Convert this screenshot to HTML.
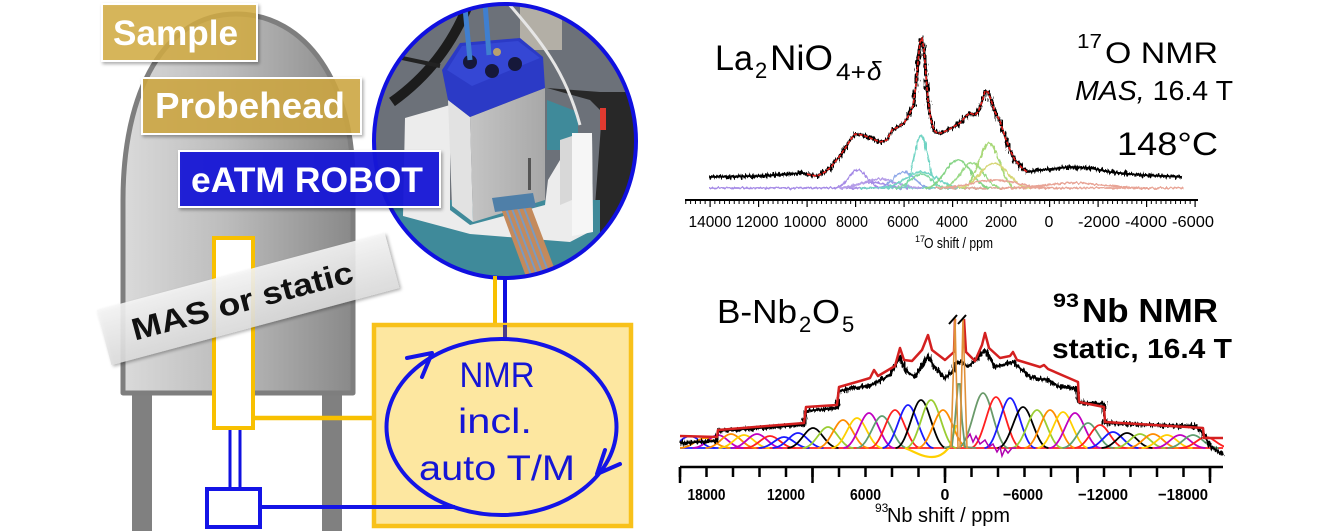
<!DOCTYPE html>
<html><head><meta charset="utf-8"><style>
html,body{margin:0;padding:0;background:#fff;}
svg{display:block;font-family:"Liberation Sans",Arial,sans-serif;}
</style></head><body>
<svg width="1328" height="531" viewBox="0 0 1328 531" xmlns="http://www.w3.org/2000/svg">
<defs>
<linearGradient id="dg" x1="0" y1="0" x2="1" y2="0"><stop offset="0" stop-color="#dadada"/><stop offset="0.45" stop-color="#bcbcbc"/><stop offset="1" stop-color="#898989"/></linearGradient>
<linearGradient id="mg" x1="0" y1="0" x2="0" y2="1"><stop offset="0" stop-color="#f6f6f6"/><stop offset="1" stop-color="#dcdcdc"/></linearGradient>
<linearGradient id="bx" x1="0" y1="0" x2="1" y2="0"><stop offset="0" stop-color="#c4c4c4"/><stop offset="1" stop-color="#a8a8a8"/></linearGradient>
<filter id="sh" x="-10%" y="-20%" width="130%" height="160%"><feDropShadow dx="1.5" dy="2" stdDeviation="1.5" flood-color="#000" flood-opacity="0.35"/></filter>
<filter id="jit" x="-3%" y="-20%" width="106%" height="140%"><feTurbulence type="fractalNoise" baseFrequency="0.55 0.12" numOctaves="2" seed="4" result="n"/><feDisplacementMap in="SourceGraphic" in2="n" scale="8" xChannelSelector="R" yChannelSelector="G"/></filter>
<filter id="jit2" x="-3%" y="-40%" width="106%" height="180%"><feTurbulence type="fractalNoise" baseFrequency="0.5 0.15" numOctaves="1" seed="9" result="n"/><feDisplacementMap in="SourceGraphic" in2="n" scale="4" xChannelSelector="R" yChannelSelector="G"/></filter>
<clipPath id="pc"><ellipse cx="505" cy="141" rx="131" ry="137"/></clipPath>
<clipPath id="bclip"><rect x="680" y="280" width="544" height="185"/></clipPath>
<path id="g" d="M-3,0 C-1.6,0 -0.9,-1 0,-1 C0.9,-1 1.6,0 3,0" fill="none" vector-effect="non-scaling-stroke"/>
<path id="topb" d="M709,177 L760,176 L803,173 L810,175 L817,176 L825,172 L831,167 L839,157 L846,147 L851,139 L855,134 L863,135 L870,138 L880,142 L887,140 L892,130 L898,127 L904,123 L909,115 L913,106 L916,85 L918,62 L920,42 L922,38 L924,50 L926,75 L928,100 L931,120 L934,130 L937,133 L941,133 L948,130 L953,127 L960,123 L966,116 L970,113 L975,115 L978,112 L982,102 L985,91 L988,92 L991,100 L995,112 L1000,121 L1005,137 L1010,150 L1015,160 L1022,168 L1027,172 L1040,170 L1070,167 L1090,168 L1110,172 L1140,175 L1182,177" fill="none" stroke-linejoin="round"/>
<path id="botb" d="M680,443 L717,441 L718,431 L760,428 L804,425 L806,411 L837,408 L839,391 L860,387 L874,384 L890,375 L900,357 L906,371 L915,377 L928,356 L935,368 L945,378 L952,372 L956,362 L962,362 L968,367 L985,350 L995,367 L1013,362 L1030,377 L1047,380 L1060,387 L1077,389 L1078,402 L1104,404 L1105,423 L1150,425 L1195,426 L1203,433 L1210,446 L1223,455" fill="none" stroke-linejoin="round"/>
</defs>
<rect width="1328" height="531" fill="#fff"/>

<!-- magnet legs & body -->
<rect x="132" y="393" width="20" height="138" fill="#808080"/>
<rect x="322" y="393" width="20" height="138" fill="#808080"/>
<path d="M123,393 L123,200 C123,90 165,14 236,14 C307,14 353,85 353,180 L353,393 Z" fill="url(#dg)" stroke="#7e7e7e" stroke-width="5" stroke-linejoin="round"/>

<!-- Sample / Probehead labels -->
<rect x="102" y="4" width="155" height="57" fill="#d5ae44" fill-opacity="0.82" stroke="#fff" stroke-width="2" filter="url(#sh)"/>
<text x="113" y="45" font-size="35" font-weight="bold" fill="#fff" textLength="125" lengthAdjust="spacingAndGlyphs">Sample</text>
<rect x="142" y="78" width="219" height="56" fill="#d0a942" fill-opacity="0.85" stroke="#fff" stroke-width="2" filter="url(#sh)"/>
<text x="155" y="118" font-size="36" font-weight="bold" fill="#fff" textLength="190" lengthAdjust="spacingAndGlyphs">Probehead</text>

<!-- photo -->
<g clip-path="url(#pc)">
  <rect x="370" y="0" width="272" height="282" fill="#6c7179"/>
  <rect x="520" y="5" width="42" height="45" fill="#b3afa6"/>
  <path d="M470,0 C455,40 430,75 392,102" stroke="#1c1c1c" stroke-width="10" fill="none"/>
  <path d="M402,58 L440,66" stroke="#222" stroke-width="4" fill="none"/>
  <polygon points="547,88 600,92 645,92 645,285 585,285 593,233 602,112 590,100" fill="#282828"/>
  <rect x="600" y="108" width="6" height="22" fill="#e03a30"/>
  <rect x="584" y="205" width="7" height="35" fill="#e03a30"/>
  <polygon points="370,200 600,200 600,285 370,285" fill="#3f8a9a"/>
  <polygon points="547,100 578,112 578,150 547,150" fill="#3f8a9a"/>
  <polygon points="405,118 450,105 450,210 470,225 545,205 548,180 560,160 575,135 592,135 593,230 570,242 520,238 470,234 403,216" fill="#ececec"/>
  <polygon points="560,140 572,136 572,200 560,205" fill="#d8d8d8"/>
  <polygon points="572,133 592,133 593,232 572,236" fill="#f6f6f6"/>
  <polygon points="448,100 470,117 473,222 452,206" fill="#e2e2e2"/>
  <polygon points="470,117 545,88 545,200 473,222" fill="url(#bx)"/>
  <rect x="528" y="158" width="3" height="32" fill="#555"/>
  <polygon points="442,70 460,43 520,38 543,57 545,88 470,117 448,100" fill="#2b3ac6"/>
  <polygon points="447,70 462,46 518,41 540,58 472,86" fill="#3547d4"/>
  <circle cx="470" cy="62" r="7" fill="#16183a"/>
  <circle cx="492" cy="71" r="7" fill="#16183a"/>
  <circle cx="515" cy="64" r="7" fill="#16183a"/>
  <circle cx="497" cy="52" r="4" fill="#b8a070"/>
  <path d="M465,8 L470,60" stroke="#3f7fd0" stroke-width="5"/>
  <path d="M485,3 L489,55" stroke="#3f7fd0" stroke-width="5"/>
  <path d="M508,3 C540,40 565,70 580,125" stroke="#e6e6e6" stroke-width="3" fill="none"/>
  <polygon points="500,206 530,204 558,278 528,282" fill="#c48a5c"/>
  <path d="M505,206 L533,280 M511,206 L539,280 M517,206 L545,280 M523,205 L551,279" stroke="#7a9ac0" stroke-width="2"/>
  <polygon points="492,198 533,193 536,207 495,212" fill="#4f7fa8"/>
</g>
<ellipse cx="505" cy="141" rx="131" ry="137" fill="none" stroke="#1010e0" stroke-width="4"/>

<!-- eATM label -->
<rect x="179" y="151" width="261" height="56" fill="#1a1ad8" fill-opacity="0.93" stroke="#fff" stroke-width="2" filter="url(#sh)"/>
<text x="191" y="192" font-size="35" font-weight="bold" fill="#fff" textLength="232" lengthAdjust="spacingAndGlyphs">eATM ROBOT</text>

<!-- tube -->
<rect x="214" y="238" width="39" height="190" fill="#fff" stroke="#f8c000" stroke-width="4"/>

<!-- MAS or static label -->
<g transform="translate(248,299) rotate(-15)">
  <rect x="-149" y="-28.5" width="298" height="57" fill="url(#mg)" fill-opacity="0.88" filter="url(#sh)"/>
  <text x="-120" y="11" font-size="31" font-weight="bold" fill="#111" textLength="228" lengthAdjust="spacingAndGlyphs">MAS or static</text>
</g>

<!-- connection lines -->
<line x1="255" y1="418" x2="373" y2="418" stroke="#f8c000" stroke-width="4.5"/>
<line x1="495" y1="276" x2="495" y2="323" stroke="#f8c000" stroke-width="4"/>
<line x1="505" y1="276" x2="505" y2="323" stroke="#1010e0" stroke-width="4"/>
<line x1="230" y1="430" x2="230" y2="488" stroke="#1010e0" stroke-width="3"/>
<line x1="240" y1="430" x2="240" y2="488" stroke="#1010e0" stroke-width="3"/>

<!-- yellow box -->
<rect x="374" y="325" width="257" height="201" fill="#fde7a0" stroke="#f8c11a" stroke-width="4.5"/>
<line x1="505" y1="325" x2="505" y2="338" stroke="#4a3c8c" stroke-width="4"/>
<rect x="207" y="489" width="53" height="38" fill="#fff" stroke="#1414e6" stroke-width="4"/>
<line x1="260" y1="507" x2="455" y2="507" stroke="#1414e6" stroke-width="4"/>
<ellipse cx="501.5" cy="427" rx="115" ry="88" fill="none" stroke="#1414e6" stroke-width="4"/>
<path d="M407,358 L432,353 L422,377" fill="none" stroke="#1414e6" stroke-width="4" stroke-linejoin="round" stroke-linecap="round"/>
<path d="M620,464 L597,474 L605,450" fill="none" stroke="#1414e6" stroke-width="4" stroke-linejoin="round" stroke-linecap="round"/>
<g fill="#1515d5" font-size="35" text-anchor="middle">
  <text x="497" y="387" textLength="75" lengthAdjust="spacingAndGlyphs">NMR</text>
  <text x="495" y="433" textLength="74" lengthAdjust="spacingAndGlyphs">incl.</text>
  <text x="497" y="480" textLength="156" lengthAdjust="spacingAndGlyphs">auto T/M</text>
</g>

<!-- ===== TOP CHART ===== -->
<g fill="#000">
  <text x="715" y="70" font-size="35" textLength="38" lengthAdjust="spacingAndGlyphs">La</text>
  <text x="755" y="78" font-size="22">2</text>
  <text x="770" y="70" font-size="35" textLength="63" lengthAdjust="spacingAndGlyphs">NiO</text>
  <text x="836" y="80" font-size="24" textLength="30" lengthAdjust="spacingAndGlyphs">4+</text>
  <text x="867" y="80" font-size="26" font-style="italic">δ</text>
  <text x="1077" y="48" font-size="20" textLength="25" lengthAdjust="spacingAndGlyphs">17</text>
  <text x="1105" y="63" font-size="30" textLength="113" lengthAdjust="spacingAndGlyphs">O NMR</text>
  <text x="1075" y="100" font-size="28" textLength="158" lengthAdjust="spacingAndGlyphs"><tspan font-style="italic">MAS,</tspan> 16.4 T</text>
  <text x="1117" y="155" font-size="32" textLength="101" lengthAdjust="spacingAndGlyphs">148°C</text>
</g>
<!-- top components -->
<g filter="url(#jit2)" fill="none" stroke-width="1.8">
  <line x1="709" y1="188" x2="950" y2="188" stroke="#a58ae6"/>
  <line x1="860" y1="188" x2="1000" y2="188" stroke="#72d4c4"/>
  <line x1="950" y1="188" x2="1183" y2="188" stroke="#e8a496"/>
  <use href="#g" transform="translate(858,188) scale(8,18)" stroke="#a58ae6"/>
  <use href="#g" transform="translate(872,188) scale(12,6)" stroke="#a58ae6"/>
  <use href="#g" transform="translate(880,188) scale(14,9)" stroke="#b59de8"/>
  <use href="#g" transform="translate(904,188) scale(9,16)" stroke="#8fa8e8"/>
  <use href="#g" transform="translate(921,188) scale(14,16)" stroke="#72d4c4"/>
  <use href="#g" transform="translate(921,188) scale(6,53)" stroke="#72d4c4"/>
  <use href="#g" transform="translate(921,188) scale(9,14)" stroke="#7fd8a0"/>
  <use href="#g" transform="translate(958,188) scale(11,28)" stroke="#86d486"/>
  <use href="#g" transform="translate(972,188) scale(10,25)" stroke="#9ada88"/>
  <use href="#g" transform="translate(989,188) scale(9,45)" stroke="#a8d878"/>
  <use href="#g" transform="translate(994,188) scale(12,25)" stroke="#d6d676"/>
  <use href="#g" transform="translate(995,188) scale(20,8)" stroke="#e8a496"/>
  <use href="#g" transform="translate(1075,188) scale(25,5)" stroke="#e8a496"/>
</g>
<use href="#topb" stroke="#000" stroke-width="1.8"/>
<use href="#topb" stroke="#000" stroke-width="3" filter="url(#jit)"/>
<path d="M807,174 L810,175 L817,176 L825,172 L831,167 L839,157 L846,147 L851,139 L855,134 L863,135 L870,138 L880,142 L887,140 L892,130 L898,127 L904,123 L909,115 L913,106 L916,85 L918,62 L920,42 L922,38 L924,50 L926,75 L928,100 L931,120 L934,130 L937,133 L941,133 L948,130 L953,127 L960,123 L966,116 L970,113 L975,115 L978,112 L982,102 L985,91 L988,92 L991,100 L995,112 L1000,121 L1005,137 L1010,150 L1015,160 L1022,168 L1027,172" fill="none" stroke="#e8201c" stroke-width="1.6" stroke-dasharray="4 1.5" stroke-linejoin="round"/>
<line x1="685" y1="200" x2="1198" y2="200" stroke="#000" stroke-width="2"/>
<line x1="685.25" y1="202" x2="1198" y2="202" stroke="#000" stroke-width="4" stroke-dasharray="1 3.85"/>
<line x1="709.5" y1="203.5" x2="1198" y2="203.5" stroke="#000" stroke-width="7" stroke-dasharray="1.2 47.3"/>
<g font-size="16" text-anchor="middle" fill="#000">
  <text x="710" y="227" textLength="43" lengthAdjust="spacingAndGlyphs">14000</text>
  <text x="757" y="227" textLength="43" lengthAdjust="spacingAndGlyphs">12000</text>
  <text x="805" y="227" textLength="43" lengthAdjust="spacingAndGlyphs">10000</text>
  <text x="852" y="227" textLength="32" lengthAdjust="spacingAndGlyphs">8000</text>
  <text x="903" y="227" textLength="32" lengthAdjust="spacingAndGlyphs">6000</text>
  <text x="952" y="227" textLength="32" lengthAdjust="spacingAndGlyphs">4000</text>
  <text x="1001" y="227" textLength="32" lengthAdjust="spacingAndGlyphs">2000</text>
  <text x="1049" y="227">0</text>
  <text x="1099" y="227" textLength="42" lengthAdjust="spacingAndGlyphs">-2000</text>
  <text x="1146" y="227" textLength="42" lengthAdjust="spacingAndGlyphs">-4000</text>
  <text x="1193" y="227" textLength="42" lengthAdjust="spacingAndGlyphs">-6000</text>
</g>
<text x="915" y="242" font-size="9">17</text>
<text x="924" y="248" font-size="15" textLength="69" lengthAdjust="spacingAndGlyphs">O shift / ppm</text>

<!-- ===== BOTTOM CHART ===== -->
<g fill="#000">
  <text x="717" y="323" font-size="33" textLength="80" lengthAdjust="spacingAndGlyphs">B-Nb</text>
  <text x="799" y="332" font-size="22">2</text>
  <text x="812" y="323" font-size="33" textLength="28" lengthAdjust="spacingAndGlyphs">O</text>
  <text x="842" y="332" font-size="22">5</text>
  <text x="1053" y="307" font-size="19" font-weight="bold" textLength="26" lengthAdjust="spacingAndGlyphs">93</text>
  <text x="1082" y="322" font-size="33" font-weight="bold" textLength="136" lengthAdjust="spacingAndGlyphs">Nb NMR</text>
  <text x="1052" y="358" font-size="28" font-weight="bold" textLength="180" lengthAdjust="spacingAndGlyphs">static, 16.4 T</text>
</g>
<!-- bottom components -->
<g fill="none" stroke-width="1.8" clip-path="url(#bclip)">
  <line x1="680" y1="448" x2="762" y2="448" stroke="#1a1aff"/>
  <line x1="735" y1="448" x2="1223" y2="448" stroke="#ff2020"/>
  <use href="#g" transform="translate(690,448) scale(8.5,12)" stroke="#1a1aff"/>
  <use href="#g" transform="translate(705,448) scale(8.5,10)" stroke="#ff8c00"/>
  <use href="#g" transform="translate(718,448) scale(8.5,13)" stroke="#c000c0"/>
  <use href="#g" transform="translate(731,448) scale(8.5,14)" stroke="#ff8c00"/>
  <use href="#g" transform="translate(744,448) scale(8.5,13)" stroke="#ffd000"/>
  <use href="#g" transform="translate(757,448) scale(8.5,14)" stroke="#c000c0"/>
  <use href="#g" transform="translate(770,448) scale(8.5,12)" stroke="#ff2020"/>
  <use href="#g" transform="translate(784,448) scale(8.5,11)" stroke="#1a1aff"/>
  <use href="#g" transform="translate(798,448) scale(8.5,15)" stroke="#1a1aff"/>
  <use href="#g" transform="translate(813,448) scale(8.5,20)" stroke="#000000"/>
  <use href="#g" transform="translate(828,448) scale(8.5,21)" stroke="#9acd32"/>
  <use href="#g" transform="translate(843,448) scale(8.5,28)" stroke="#ff8c00"/>
  <use href="#g" transform="translate(857,448) scale(8.5,30)" stroke="#ffd000"/>
  <use href="#g" transform="translate(869,448) scale(8.5,35)" stroke="#c000c0"/>
  <use href="#g" transform="translate(882,448) scale(8.5,32)" stroke="#5f9f6f"/>
  <use href="#g" transform="translate(895,448) scale(8.5,38)" stroke="#ff2020"/>
  <use href="#g" transform="translate(908,448) scale(8.5,43)" stroke="#1a1aff"/>
  <use href="#g" transform="translate(921,448) scale(8.5,48)" stroke="#000000"/>
  <use href="#g" transform="translate(931,448) scale(8.5,48)" stroke="#9acd32"/>
  <use href="#g" transform="translate(943,448) scale(8.5,38)" stroke="#ff8c00"/>
  <use href="#g" transform="translate(983,448) scale(8.5,55)" stroke="#6a9a6a"/>
  <use href="#g" transform="translate(996,448) scale(8.5,51)" stroke="#ff2020"/>
  <use href="#g" transform="translate(1010,448) scale(8.5,50)" stroke="#1a1aff"/>
  <use href="#g" transform="translate(1023,448) scale(8.5,41)" stroke="#000000"/>
  <use href="#g" transform="translate(1037,448) scale(8.5,38)" stroke="#9acd32"/>
  <use href="#g" transform="translate(1050,448) scale(8.5,38)" stroke="#ff8c00"/>
  <use href="#g" transform="translate(1063,448) scale(8.5,36)" stroke="#ffd000"/>
  <use href="#g" transform="translate(1075,448) scale(8.5,35)" stroke="#c000c0"/>
  <use href="#g" transform="translate(1088,448) scale(8.5,25)" stroke="#5f9f6f"/>
  <use href="#g" transform="translate(1100,448) scale(8.5,23)" stroke="#ff2020"/>
  <use href="#g" transform="translate(1113,448) scale(8.5,16)" stroke="#1a1aff"/>
  <use href="#g" transform="translate(1127,448) scale(8.5,15)" stroke="#000000"/>
  <use href="#g" transform="translate(1140,448) scale(8.5,14)" stroke="#9acd32"/>
  <use href="#g" transform="translate(1153,448) scale(8.5,14)" stroke="#ff8c00"/>
  <use href="#g" transform="translate(1167,448) scale(8.5,13)" stroke="#ffd000"/>
  <use href="#g" transform="translate(1180,448) scale(8.5,13)" stroke="#c000c0"/>
  <use href="#g" transform="translate(1193,448) scale(8.5,13)" stroke="#5f9f6f"/>
  <use href="#g" transform="translate(1206,448) scale(8.5,11)" stroke="#ff2020"/>
  <path d="M905,448 C915,452 922,457 932,457 C942,457 947,450 950,446 L956,425" stroke="#ffd000" stroke-width="2.2"/>
  <path d="M944,448 L952,446 L955,420 L958,384 L960,384 L962,420 L965,447 L976,448" stroke="#6a9a6a"/>
  <path d="M966,440 L970,434 L973,442 L976,436 L980,444 L985,440 L989,447 L993,444 L997,452 L1000,447 L1002,456 L1005,449 L1008,453 L1012,448 L1016,448" stroke="#b000b0" stroke-width="1.5"/>
</g>
<use href="#botb" stroke="#000" stroke-width="1.8"/>
<use href="#botb" stroke="#000" stroke-width="3.2" filter="url(#jit)"/>
<path d="M680,436 L717,437 L718,430 L804,423 L806,407 L837,405 L839,387 L860,381 L870,378 L874,370 L878,376 L895,366 L900,348 L904,360 L912,361 L922,350 L928,335 L932,350 L945,360 L954,352 L955,319 M964,319 L966,352 L975,361 L982,345 L985,333 L989,348 L1000,358 L1010,356 L1013,352 L1017,360 L1040,367 L1044,365 L1048,369 L1078,382 L1079,402 L1104,407 L1105,422 L1203,428 L1204,438 L1223,438" fill="none" stroke="#d42020" stroke-width="2.5" stroke-linejoin="round"/>
<path d="M951,448 L955,318 L958,448 M960,448 L963,318 L967,448" fill="none" stroke="#e0913a" stroke-width="1.6"/>
<path d="M949,324 L957,315 M958,324 L966,315" stroke="#000" stroke-width="2"/>
<line x1="680" y1="467" x2="1223" y2="467" stroke="#000" stroke-width="2.5"/>
<line x1="678.75" y1="472" x2="1212" y2="472" stroke="#000" stroke-width="10" stroke-dasharray="2.5 24"/>
<g stroke="#000" stroke-width="2.5">
  <line x1="680" y1="467" x2="680" y2="483"/>
  <line x1="812.5" y1="467" x2="812.5" y2="483"/>
  <line x1="945" y1="467" x2="945" y2="483"/>
  <line x1="1077.5" y1="467" x2="1077.5" y2="483"/>
  <line x1="1210" y1="467" x2="1210" y2="483"/>
</g>
<g font-size="16" font-weight="bold" text-anchor="middle" fill="#000">
  <text x="706.5" y="500" textLength="38" lengthAdjust="spacingAndGlyphs">18000</text>
  <text x="786" y="500" textLength="38" lengthAdjust="spacingAndGlyphs">12000</text>
  <text x="865.5" y="500" textLength="31" lengthAdjust="spacingAndGlyphs">6000</text>
  <text x="945" y="500">0</text>
  <text x="1023" y="500" textLength="40" lengthAdjust="spacingAndGlyphs">−6000</text>
  <text x="1103" y="500" textLength="50" lengthAdjust="spacingAndGlyphs">−12000</text>
  <text x="1183" y="500" textLength="50" lengthAdjust="spacingAndGlyphs">−18000</text>
</g>
<text x="875" y="512" font-size="12">93</text>
<text x="887" y="522" font-size="20" textLength="123" lengthAdjust="spacingAndGlyphs">Nb shift / ppm</text>
</svg>
</body></html>
